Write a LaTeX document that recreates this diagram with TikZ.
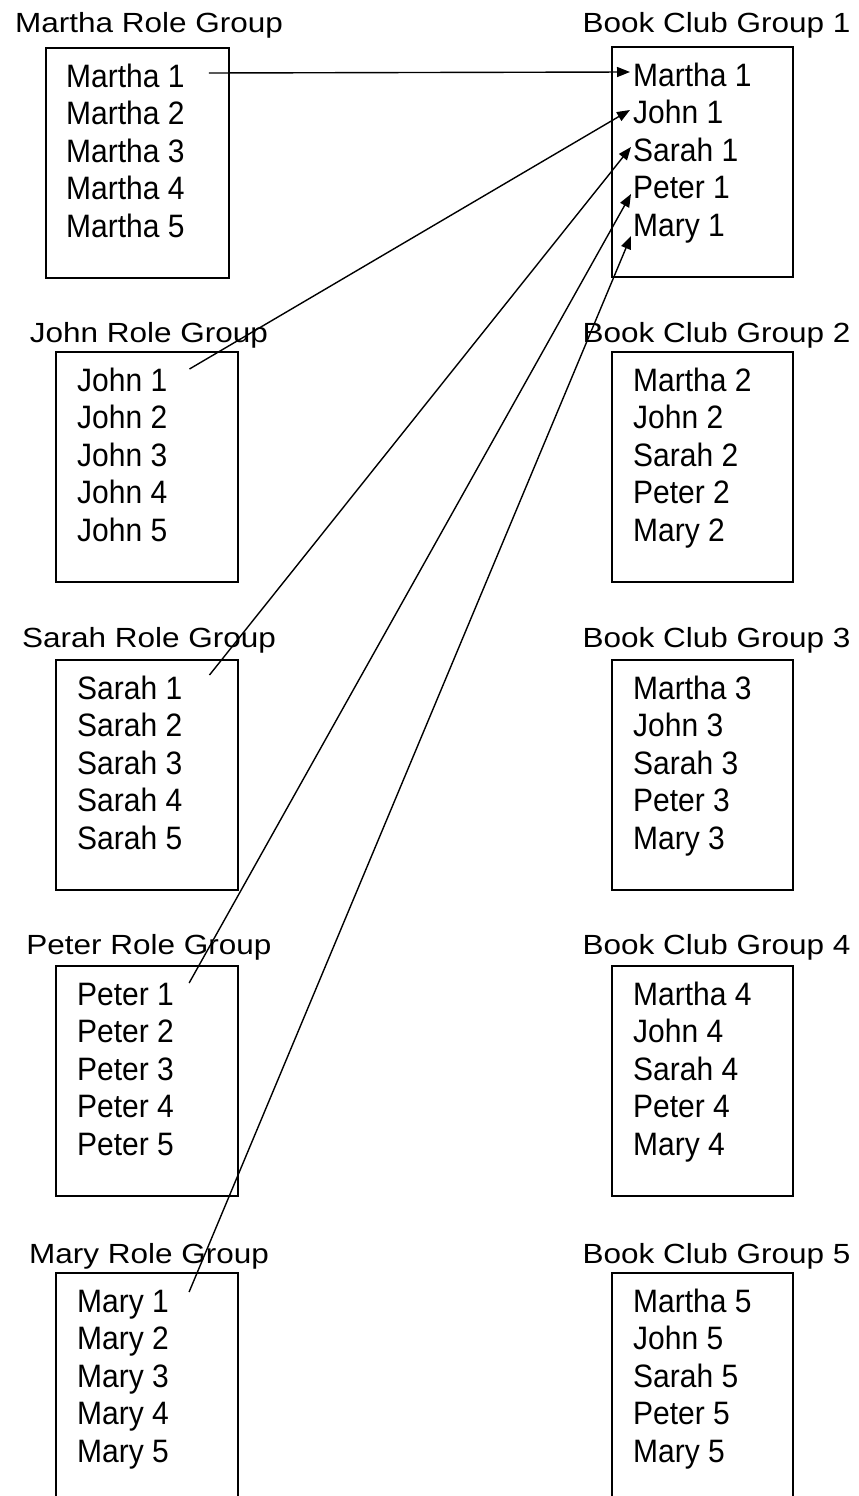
\documentclass[tikz,border=0pt]{standalone}
\usepackage{graphicx}
\usepackage{fontspec}
\setmainfont{Liberation Sans}
\usetikzlibrary{arrows.meta,calc}
% entries are set slightly taller, headings slightly flatter
\newcommand\entrytext[1]{\scalebox{1}[1.08]{#1}}
\newcommand\headtext[1]{\scalebox{1}[0.88]{#1}}

\begin{document}
\begin{tikzpicture}[x=1pt,y=-1pt,
  grpbox/.style={draw=black,line width=1.6pt,inner sep=0pt,minimum height=230pt,anchor=north west},
  grptitle/.style={anchor=base,inner sep=0pt,font=\fontsize{31.5}{36}\selectfont},
  entry/.style={anchor=base west,inner sep=0pt,font=\fontsize{30}{36}\selectfont},
  link/.style={line width=1.4pt,-{Triangle[length=13pt,width=10pt]}}]
\useasboundingbox (0,0) rectangle (859,1496);
\clip (0,0) rectangle (859,1496);

% role groups (left column)
\foreach \nm/\ty/\tby/\bl/\bw/\ix [count=\k] in
  {Martha/47/33/45/183/66, John/351/342/55/182/77, Sarah/659/647/55/182/77,
   Peter/965/954/55/182/77, Mary/1272/1263/55/182/77}{
  \node[grptitle] (LT\k) at (149,\tby) {\headtext{\nm\ Role Group}};
  \node[grpbox,minimum width=\bw pt] (LB\k) at (\bl,\ty) {};
  \foreach \i in {1,...,5}
    \node[entry] (L\k-\i) at (\ix,{\ty+40+37.5*(\i-1)}) {\entrytext{\nm\ \i}};
}

% book club groups (right column)
\foreach \ty/\tby [count=\k] in {46/33, 351/342, 659/647, 965/954, 1272/1263}{
  \node[grptitle] (RT\k) at (716.5,\tby) {\headtext{Book Club Group \k}};
  \node[grpbox,minimum width=181pt] (RB\k) at (611,\ty) {};
  \foreach \p [count=\j] in {Martha,John,Sarah,Peter,Mary}
    \node[entry] (R\k-\j) at (633,{\ty+40+37.5*(\j-1)}) {\entrytext{\p\ \k}};
}

% first member of each role group goes to Book Club Group 1
\draw[link] ($(L1-1.base east)+(24,-14)$) -- ($(R1-1.base west)+(-3,-14)$);
\draw[link] ($(L2-1.base east)+(22,-22)$) -- ($(R1-2.base west)+(-3,-13.5)$);
\draw[link] ($(L3-1.base east)+(27,-24)$) -- ($(R1-3.base west)+(-2,-14)$);
\draw[link] ($(L4-1.base east)+(15,-22)$) -- ($(R1-4.base west)+(-2,-4.5)$);
\draw[link] ($(L5-1.base east)+(20,-20)$) -- ($(R1-5.base west)+(-2,0)$);
\end{tikzpicture}
\end{document}
